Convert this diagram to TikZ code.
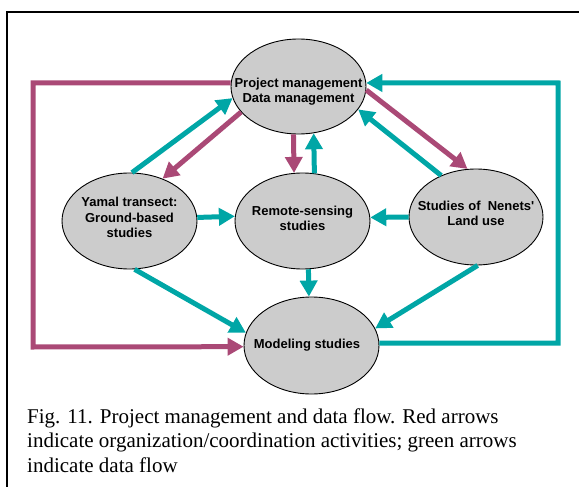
\documentclass[tikz,border=0pt]{standalone}
\usepackage{fontspec}
\setmainfont{Liberation Serif}
\newfontfamily\headfont{Liberation Sans}
\usetikzlibrary{arrows.meta,shapes.geometric}
\definecolor{orgred}{RGB}{170,73,118}
\definecolor{datagreen}{RGB}{0,166,166}
\definecolor{blobgray}{RGB}{204,204,204}
\begin{document}
\begin{tikzpicture}[x=1pt,y=-1pt,
    blob/.style={ellipse,draw,fill=blobgray,line width=0.9pt,minimum width=135pt,minimum height=96pt,inner sep=0pt},
    txt/.style={align=center,inner sep=0pt,font=\headfont\bfseries\fontsize{13}{15.5}\selectfont},
    org/.style={draw=orgred,line width=5pt,-{Triangle[length=16pt,width=17pt]}},
    flow/.style={draw=datagreen,line width=5pt,-{Triangle[length=16pt,width=17pt]}}]
      \useasboundingbox (0,0) rectangle (579,487);
      \draw[line width=1.3pt] (7,487) |- (579,12);
      \draw
        (298.5,86.5) node[blob,minimum height=95pt] (pm){}
        (129.5,221) node[blob] (yamal){}
        (302.5,221) node[blob] (remote){}
        (476,217) node[blob,minimum width=134pt] (nenets){}
        (311.5,345.5) node[blob,minimum height=97pt] (model){};
      \draw
        (298.5,91.5) node[txt] (pmtext){Project management\\Data management}
        (129.5,217.5) node[txt] (yamaltext){Yamal transect:\\Ground-based\\studies}
        (302.5,218.5) node[txt] (remotetext){Remote-sensing\\studies}
        (476,213.5) node[txt] (nenetstext){Studies of\ \ Nenets'\\Land use}
        (307,345.5) node[txt] (modeltext){Modeling studies};
      \coordinate (redcorner) at (33,347);
      \coordinate (greencorner) at (558,83);
      \begin{scope}[line join=miter]
        \draw[org] (pm.177) -| (redcorner) -- (model.181.3);
        \draw[flow] (model.2) -| (greencorner) -- (pm.3);
        \draw[flow] (yamal.87) -- (pm.190);
        \draw[org] (pm.204.4) -- (yamal.52.7);
        \draw[org] (pm.264.6) -- (remote.100);
        \draw[flow] (remote.76.5) -- (pm.288.1);
        \draw[org] (pm.357) -- (nenets.100.4);
        \draw[flow] (nenets.130.8) -- (pm.339.3);
        \draw[flow] (yamal.3.5) -- (remote.176.5);
        \draw[flow] (nenets.west) -- (remote.3.5);
        \draw[flow] (remote.277.7) -- (model.93);
        \draw[flow] (yamal.276.5) -- (model.169.7);
        \draw[flow] (nenets.272.4) -- (model.15);
      \end{scope}
      \node[anchor=north west,align=left,inner sep=0pt,font=\fontsize{21}{24.5}\selectfont] (caption)
        at (27,408.5) {Fig. 11. Project management and data flow. Red arrows\\indicate organization/coordination activities; green arrows\\indicate data flow};
    \end{tikzpicture}
\end{document}
